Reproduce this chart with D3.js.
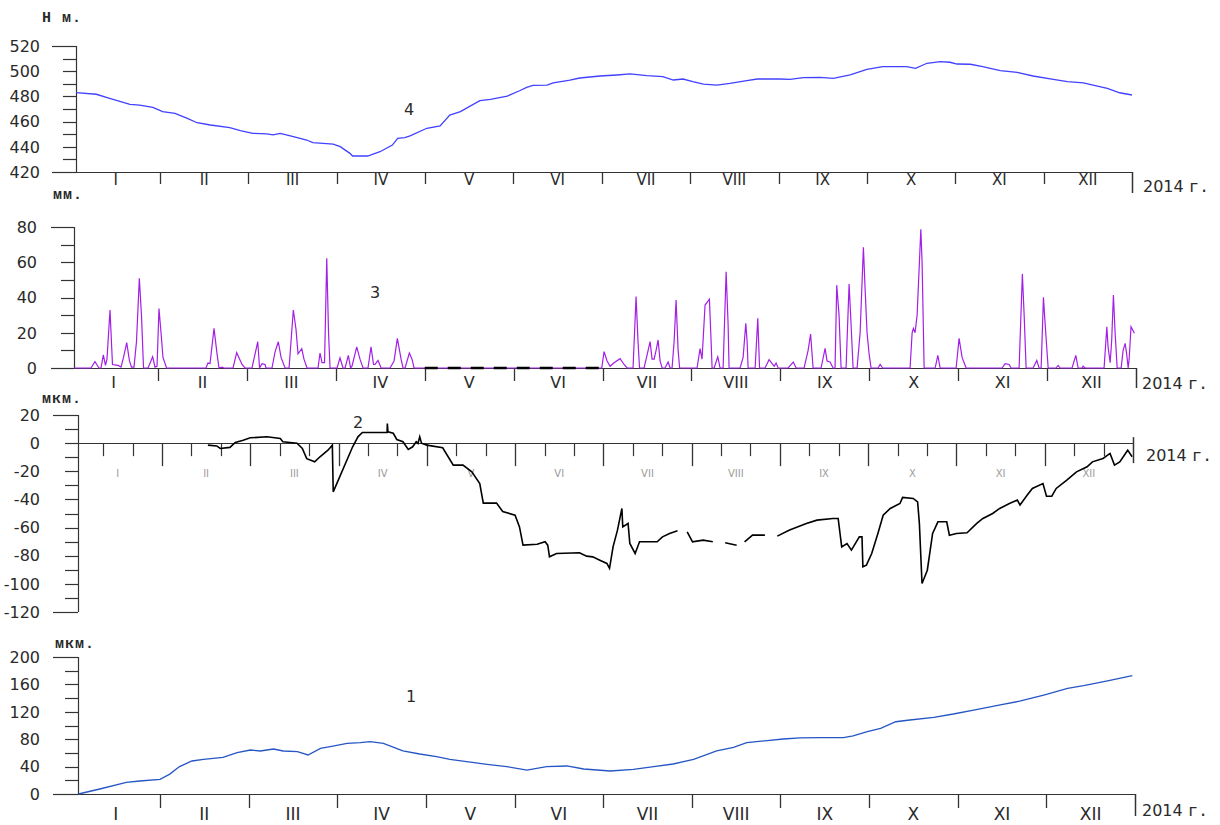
<!DOCTYPE html>
<html>
<head>
<meta charset="utf-8">
<script src="https://cdn.jsdelivr.net/npm/d3@7"></script>
<style>
  html, body { margin: 0; padding: 0; background: #fff; }
  svg { display: block; }
  text { font-family: "DejaVu Sans", sans-serif; fill: #2a2a2a; }
  .unit { font-family: "Liberation Mono", "DejaVu Sans Mono", monospace; font-weight: bold; font-size: 15px; letter-spacing: 1px; }
  .suffix { font-family: "Liberation Mono", "DejaVu Sans Mono", monospace; font-size: 17px; }
</style>
</head>
<body>
<svg id="chart" width="1220" height="825"></svg>
<script>
// Time is measured in months from 1 January 2014 (0) to 31 December 2014 (12).
const monthLabels = ["I", "II", "III", "IV", "V", "VI", "VII", "VIII", "IX", "X", "XI", "XII"];
const yearLabel = "2014";
const yearSuffix = "г.";

// 4 — reservoir water level, m
const waterLevel = [
  [0.05, 483], [0.28, 481.7], [0.43, 478.5], [0.66, 473.7], [0.77, 473], [0.92, 471.3],
  [1.03, 467.9], [1.17, 466.6], [1.31, 462.6], [1.42, 459.1], [1.57, 457.3], [1.79, 455.2],
  [1.91, 452.8], [2.05, 450.7], [2.21, 450.2], [2.28, 449.4], [2.36, 450.7], [2.51, 448],
  [2.66, 445.4], [2.73, 443.3], [2.96, 442.2], [3.04, 440.1], [3.15, 434.8], [3.18, 432.7],
  [3.35, 432.7], [3.49, 436.1], [3.63, 441.4], [3.69, 446.7], [3.77, 447.2], [3.83, 448.6],
  [4.02, 454.7], [4.17, 456.5], [4.28, 465.2], [4.40, 467.9], [4.62, 476.6], [4.74, 477.7],
  [4.93, 480.3], [5.07, 484.5], [5.15, 487.2], [5.22, 488.8], [5.38, 489], [5.45, 490.8],
  [5.64, 493], [5.75, 494.6], [5.98, 496.2], [6.17, 497], [6.32, 497.8], [6.51, 496.5],
  [6.69, 495.7], [6.81, 493], [6.92, 493.8], [7.03, 491.7], [7.15, 489.8], [7.30, 489],
  [7.45, 490.4], [7.64, 492.5], [7.76, 493.8], [8.02, 493.8], [8.13, 493.5], [8.28, 494.9],
  [8.47, 495.1], [8.62, 494.3], [8.81, 497], [9.00, 501.5], [9.18, 503.6], [9.45, 503.6],
  [9.55, 502.3], [9.68, 506.3], [9.83, 507.6], [9.94, 507.1], [10.02, 505.7], [10.17, 505.5],
  [10.31, 503.6], [10.51, 500.4], [10.70, 499.1], [10.88, 496.2], [11.11, 493.5], [11.27, 491.7],
  [11.45, 490.8], [11.56, 489], [11.72, 486.4], [11.86, 482.9], [12.00, 481.1]
];

// 3 — precipitation, mm
const precipitation = [
  [0.055, 0], [0.246, 0], [0.291, 3.6], [0.336, 0], [0.359, 0], [0.385, 7.4], [0.409, 1.5],
  [0.426, 5], [0.460, 32.9], [0.488, 2], [0.550, 1.5], [0.584, 0.5], [0.612, 6], [0.648, 14.4],
  [0.679, 4], [0.702, 0.5], [0.730, 0.5], [0.758, 15], [0.790, 50.9], [0.814, 30], [0.837, 0],
  [0.888, 0], [0.940, 6.4], [0.966, 0.5], [0.989, 1], [1.011, 33.8], [1.034, 20], [1.056, 6],
  [1.096, 0], [1.540, 0], [1.562, 2.8], [1.585, 2.5], [1.630, 22.5], [1.664, 8], [1.686, 0],
  [1.720, 0.5], [1.742, 0], [1.844, 0], [1.885, 8.7], [1.945, 2], [1.979, 0], [2.057, 0],
  [2.122, 14.9], [2.142, 0], [2.170, 2.5], [2.204, 2], [2.215, 0], [2.282, 0], [2.316, 9],
  [2.353, 14.9], [2.384, 6], [2.429, 0], [2.474, 0], [2.522, 32.9], [2.552, 22], [2.575, 8],
  [2.617, 11], [2.642, 5], [2.676, 0], [2.800, 0], [2.822, 8.5], [2.845, 3], [2.873, 3],
  [2.898, 62.2], [2.918, 20], [2.935, 0], [3.014, 0], [3.047, 5.7], [3.081, 0], [3.104, 0],
  [3.141, 7.2], [3.166, 0], [3.182, 1], [3.235, 12], [3.272, 5], [3.306, 0], [3.362, 0],
  [3.396, 12], [3.424, 2], [3.441, 2], [3.475, 4.3], [3.509, 0], [3.610, 0], [3.655, 4],
  [3.692, 16.8], [3.734, 5], [3.756, 0], [3.779, 0], [3.827, 8.5], [3.857, 5], [3.880, 0],
  [5.991, 0], [6.017, 9.3], [6.051, 4], [6.085, 1], [6.130, 3], [6.197, 5.3], [6.242, 2],
  [6.276, 0], [6.343, 0], [6.377, 40.5], [6.399, 15], [6.416, 0], [6.467, 0], [6.490, 5],
  [6.535, 15], [6.557, 5], [6.580, 5], [6.602, 10], [6.625, 15.9], [6.647, 4], [6.670, 0],
  [6.703, 0], [6.737, 3.4], [6.760, 0], [6.782, 0], [6.805, 15], [6.827, 38.6], [6.850, 10],
  [6.867, 0], [7.063, 0], [7.097, 11], [7.119, 5], [7.153, 35.7], [7.202, 39], [7.221, 15],
  [7.232, 0], [7.255, 0], [7.296, 6.3], [7.322, 0], [7.356, 0], [7.390, 54.6], [7.412, 25],
  [7.423, 0], [7.547, 0], [7.581, 6], [7.611, 25.3], [7.626, 15], [7.637, 0], [7.716, 0],
  [7.746, 28.2], [7.766, 0], [7.828, 0], [7.873, 4.7], [7.907, 2.5], [7.930, 1], [7.952, 2.8],
  [7.975, 0], [8.087, 0], [8.146, 3.4], [8.177, 0], [8.267, 0], [8.312, 10], [8.340, 19.3],
  [8.368, 0], [8.458, 0], [8.503, 11.1], [8.525, 4], [8.559, 3.4], [8.593, 0], [8.615, 0],
  [8.634, 47], [8.660, 30], [8.683, 0], [8.739, 0], [8.773, 47.6], [8.795, 25], [8.818, 0],
  [8.863, 0], [8.897, 20], [8.934, 68.5], [8.953, 45], [8.975, 20], [8.998, 8], [9.020, 0],
  [9.099, 0], [9.122, 2], [9.150, 0], [9.459, 0], [9.482, 20], [9.496, 22.5], [9.515, 20],
  [9.538, 30], [9.580, 78.7], [9.594, 60], [9.617, 0], [9.741, 0], [9.771, 7.2], [9.797, 0],
  [9.977, 0], [10.010, 16.8], [10.044, 6], [10.089, 0], [10.494, 0], [10.528, 2.5], [10.573, 2],
  [10.595, 0], [10.685, 0], [10.722, 53.3], [10.742, 30], [10.764, 0], [10.843, 0], [10.884, 4.3],
  [10.910, 0], [10.933, 0], [10.959, 40.1], [10.978, 25], [11.012, 0], [11.101, 0], [11.124, 1.5],
  [11.147, 0], [11.281, 0], [11.323, 7.2], [11.349, 0], [11.394, 0], [11.405, 1], [11.428, 0],
  [11.641, 0], [11.672, 23.4], [11.686, 12], [11.709, 3], [11.726, 15], [11.746, 41.4],
  [11.765, 20], [11.788, 0], [11.833, 0], [11.855, 10], [11.878, 14], [11.895, 8], [11.912, 0],
  [11.923, 5], [11.944, 23.4], [11.982, 19.7]
];
// months with no precipitation record (May – June)
const precipGap = [4, 6];

// 2 — tilt / deformation, µm (null marks a break in the record)
const deformation = [
  [1.52, -1.4], [1.62, -2], [1.66, -3.8], [1.77, -3], [1.83, 0.5], [1.92, 2.1], [2.00, 3.8],
  [2.19, 4.5], [2.34, 3.3], [2.37, 1], [2.53, 0], [2.59, -3.8], [2.64, -11], [2.73, -13.3],
  [2.79, -9.7], [2.88, -5], [2.93, -1.4], [2.94, -34.6], [3.16, -2.6], [3.22, 4.5], [3.27, 7.6],
  [3.55, 7.6], [3.553, 14], [3.56, 8], [3.62, 7], [3.66, 2.6], [3.73, 1], [3.79, -4.5],
  [3.84, -2.6], [3.88, 1], [3.90, -0.2], [3.92, 4.5], [3.94, 0], [4.00, -1.4], [4.18, -3.3],
  [4.30, -15.6], [4.41, -15.6], [4.51, -20.4], [4.60, -28.7], [4.64, -42.6], [4.79, -42.6],
  [4.86, -48.6], [5.00, -51.2], [5.05, -59.5], [5.09, -72.5], [5.25, -71.8], [5.34, -70.1],
  [5.37, -72.5], [5.39, -80.8], [5.47, -78.4], [5.73, -77.9], [5.81, -80.3], [5.88, -80.8],
  [5.96, -83.2], [6.04, -85.5], [6.07, -89], [6.11, -73.7], [6.16, -61.8], [6.21, -46.4],
  [6.22, -59.5], [6.28, -57.1], [6.30, -71.3], [6.36, -78.4], [6.41, -70.1], [6.61, -70.1],
  [6.67, -66.6], [6.75, -64.2], [6.84, -62.3], [6.90, null],
  [6.95, -63], [7.01, -70.1], [7.13, -68.9], [7.24, -70.1], [7.30, null],
  [7.38, -70.8], [7.51, -72.5], [7.55, null],
  [7.60, -70.1], [7.69, -65.4], [7.83, -65.4], [7.90, null],
  [7.97, -66.1], [8.11, -61.8], [8.30, -57.1], [8.42, -54.7], [8.60, -53.5], [8.66, -53.5],
  [8.70, -73.7], [8.76, -71.3], [8.81, -76], [8.90, -66.6], [8.93, -66.6], [8.94, -87.9],
  [8.98, -86.7], [9.04, -78.4], [9.11, -64.2], [9.17, -51.2], [9.25, -46.4], [9.36, -42.9],
  [9.39, -38.6], [9.51, -39.3], [9.56, -41.7], [9.58, -57], [9.61, -99.7], [9.67, -90.3],
  [9.73, -64.2], [9.79, -55.9], [9.89, -55.9], [9.92, -65.4], [10.00, -64.2], [10.12, -63.7],
  [10.23, -57], [10.30, -53.5], [10.41, -50], [10.49, -46.4], [10.60, -42.9], [10.69, -40.5],
  [10.72, -44], [10.80, -37], [10.86, -32.2], [10.98, -28.7], [11.02, -37.7], [11.08, -37.7],
  [11.13, -32.2], [11.25, -26.3], [11.36, -20.4], [11.48, -16.8], [11.54, -13.3], [11.66, -10.9],
  [11.74, -7.3], [11.79, -15.6], [11.85, -13.3], [11.94, -5], [11.99, -9.7]
];

// 1 — cumulative displacement, µm
const displacement = [
  [0.08, 0], [0.32, 7.3], [0.62, 17], [0.77, 19], [1.00, 21.4], [1.11, 29], [1.22, 40],
  [1.36, 48.2], [1.49, 50.6], [1.71, 53.5], [1.87, 60.3], [2.02, 64.2], [2.13, 62.8],
  [2.28, 65.7], [2.39, 62.8], [2.55, 61.8], [2.67, 57], [2.81, 66.7], [2.95, 70], [3.11, 74],
  [3.26, 75], [3.37, 76.4], [3.52, 74], [3.74, 63], [3.93, 58.4], [4.12, 54.5], [4.27, 50.6],
  [4.46, 47.2], [4.69, 43.3], [4.91, 40], [5.14, 35], [5.36, 40], [5.59, 40.9], [5.78, 36.5],
  [6.08, 33.6], [6.34, 36], [6.57, 40], [6.79, 43.8], [7.02, 50.6], [7.28, 62.8], [7.47, 68.2],
  [7.62, 75], [7.85, 77.9], [8.03, 80.3], [8.22, 81.8], [8.45, 82.2], [8.71, 82.2], [8.82, 84.7],
  [8.98, 91], [9.13, 95.9], [9.30, 105.5], [9.46, 108], [9.73, 112], [9.95, 116.8],
  [10.18, 122.6], [10.48, 130], [10.71, 135.8], [10.97, 144.5], [11.24, 154.3], [11.42, 158.1],
  [11.69, 165], [11.97, 172.7]
];

// Panel layout, top to bottom
const panels = [
  { num: "4", numPos: [409, 115], data: waterLevel, color: "#4141ff", width: 1.3,
    unit: "Н м.", unitPos: [42, 22],
    domain: [420, 520], step: 10, labelStep: 20,
    top: 46, bottom: 172, x0: 71.6, x12: 1132, axisX: 76, axisLeft: 52, labelRight: 40,
    monthFont: 15, monthDy: 13, monthTick: 12, endTick: [0, 21], yearPos: [1143, 192] },
  { num: "3", numPos: [375, 298], data: precipitation, color: "#a31fe6", width: 1.2,
    unit: "мм.", unitPos: [53, 199],
    domain: [0, 80], step: 10, labelStep: 20,
    top: 227, bottom: 368, x0: 69.1, x12: 1136, axisX: 74, axisLeft: 51, labelRight: 37,
    monthFont: 16, monthDy: 20, monthTick: 13, endTick: [0, 20], yearPos: [1142, 389] },
  { num: "2", numPos: [358, 428], data: deformation, color: "#000", width: 1.6,
    unit: "мкм.", unitPos: [42, 403],
    domain: [-120, 20], step: 10, labelStep: 20,
    top: 415, bottom: 612, x0: 73.7, x12: 1133, axisX: 78, axisLeft: 53, labelRight: 40,
    monthFont: 10, monthDy: 34, monthTick: 23, endTick: [-6, 20], yearPos: [1146, 461],
    decades: true, faintMonths: true },
  { num: "1", numPos: [411, 702], data: displacement, color: "#2656c4", width: 1.3,
    unit: "мкм.", unitPos: [55, 648],
    domain: [0, 200], step: 20, labelStep: 40,
    top: 657, bottom: 794, x0: 71.4, x12: 1135, axisX: 78, axisLeft: 53, labelRight: 40,
    monthFont: 17, monthDy: 26, monthTick: 14, endTick: [0, 22], yearPos: [1142, 816] }
];

const svg = d3.select("#chart");
const axisColor = "#333";

panels.forEach(p => {
  const g = svg.append("g");
  const x = d3.scaleLinear().domain([0, 12]).range([p.x0, p.x12]);
  const y = d3.scaleLinear().domain(p.domain).range([p.bottom, p.top]);
  const baseY = p.domain[0] < 0 ? y(0) : p.bottom;

  // y axis: spine, ticks, labels
  g.append("line")
    .attr("x1", p.axisX + 0.5).attr("x2", p.axisX + 0.5)
    .attr("y1", y(p.domain[1])).attr("y2", y(p.domain[0]))
    .attr("stroke", axisColor).attr("stroke-width", 1.2);

  const tickVals = d3.range(p.domain[0], p.domain[1] + p.step / 2, p.step);
  g.selectAll(".ytick").data(tickVals).join("line")
    .attr("x1", v => (v === p.domain[0] || v === p.domain[1]) ? p.axisLeft : p.axisX - 13)
    .attr("x2", p.axisX)
    .attr("y1", v => Math.round(y(v)) + 0.5).attr("y2", v => Math.round(y(v)) + 0.5)
    .attr("stroke", axisColor).attr("stroke-width", 1.2);

  const labelVals = d3.range(p.domain[0], p.domain[1] + p.labelStep / 2, p.labelStep);
  g.selectAll(".ylab").data(labelVals).join("text")
    .attr("x", p.labelRight).attr("y", v => y(v))
    .attr("dy", "0.36em").attr("text-anchor", "end")
    .attr("font-size", 16)
    .text(v => v);

  // x axis
  g.append("line")
    .attr("x1", p.domain[0] < 0 ? p.axisX : p.axisLeft).attr("x2", x(12))
    .attr("y1", Math.round(baseY) + 0.5).attr("y2", Math.round(baseY) + 0.5)
    .attr("stroke", axisColor).attr("stroke-width", 1.2);

  const monthTicks = d3.range(1, 12);
  if (p.decades) {
    const decadeTicks = d3.range(1, 36).map(k => k / 3).filter(t => Math.abs(t - Math.round(t)) > 0.01);
    g.selectAll(".dtick").data(decadeTicks).join("line")
      .attr("x1", t => Math.round(x(t)) + 0.5).attr("x2", t => Math.round(x(t)) + 0.5)
      .attr("y1", baseY).attr("y2", baseY + 13)
      .attr("stroke", axisColor).attr("stroke-width", 1.2);
  }
  g.selectAll(".mtick").data(monthTicks).join("line")
    .attr("x1", t => Math.round(x(t)) + 0.5).attr("x2", t => Math.round(x(t)) + 0.5)
    .attr("y1", baseY).attr("y2", baseY + p.monthTick)
    .attr("stroke", axisColor).attr("stroke-width", 1.3);
  g.append("line")
    .attr("x1", Math.round(x(12)) + 0.5).attr("x2", Math.round(x(12)) + 0.5)
    .attr("y1", baseY + p.endTick[0]).attr("y2", baseY + p.endTick[1])
    .attr("stroke", axisColor).attr("stroke-width", 1.5);

  g.selectAll(".mlab").data(monthLabels).join("text")
    .attr("x", (d, i) => x(i + 0.5)).attr("y", baseY + p.monthDy)
    .attr("text-anchor", "middle")
    .attr("font-size", p.monthFont)
    .style("fill", p.faintMonths ? "#9a9a9a" : "#2a2a2a")
    .text(d => d);

  // year caption
  const yr = g.append("text").attr("x", p.yearPos[0]).attr("y", p.yearPos[1]).attr("font-size", 16);
  yr.append("tspan").text(yearLabel + " ");
  yr.append("tspan").attr("class", "suffix").text(yearSuffix);

  // unit caption
  g.append("text").attr("class", "unit")
    .attr("x", p.unitPos[0]).attr("y", p.unitPos[1])
    .text(p.unit);

  // series
  const line = d3.line()
    .defined(d => d[1] !== null)
    .x(d => x(d[0])).y(d => y(d[1]));
  g.append("path").datum(p.data)
    .attr("d", line)
    .attr("fill", "none")
    .attr("stroke", p.color)
    .attr("stroke-width", p.width)
    .attr("stroke-linejoin", "miter");

  if (p.data === precipitation) {
    g.append("line")
      .attr("x1", x(precipGap[0])).attr("x2", x(precipGap[1]))
      .attr("y1", baseY).attr("y2", baseY)
      .attr("stroke", "#000").attr("stroke-width", 2.4)
      .attr("stroke-dasharray", "13 10");
  }

  // series number
  g.append("text")
    .attr("x", p.numPos[0]).attr("y", p.numPos[1])
    .attr("text-anchor", "middle").attr("font-size", 16)
    .text(p.num);
});
</script>
</body>
</html>
